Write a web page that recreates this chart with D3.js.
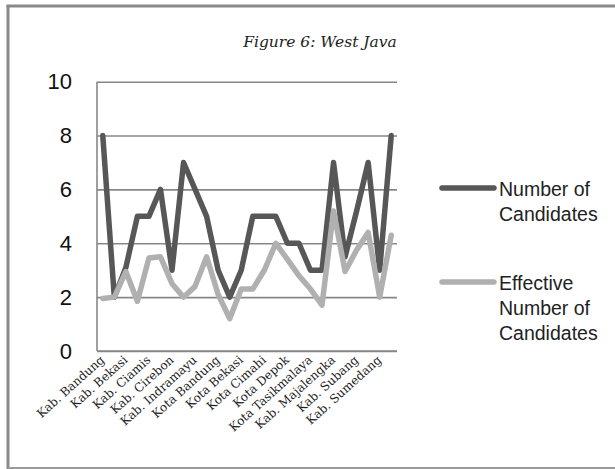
<!DOCTYPE html>
<html>
<head>
<meta charset="utf-8">
<script src="https://cdn.jsdelivr.net/npm/d3@7"></script>
<style>
  html, body { margin: 0; padding: 0; background: #fff; }
  svg { display: block; }
</style>
</head>
<body>
<svg id="chart" width="615" height="469"></svg>
<script>
// ---- data ----
const title = "Figure 6: West Java";
// 26 districts; only every other one is labelled on the axis
const tickLabels = ["Kab. Bandung", "Kab. Bekasi", "Kab. Ciamis", "Kab. Cirebon",
  "Kab. Indramayu", "Kota Bandung", "Kota Bekasi", "Kota Cimahi", "Kota Depok",
  "Kota Tasikmalaya", "Kab. Majalengka", "Kab. Subang", "Kab. Sumedang"];
const numberOfCandidates = [8, 2, 3.1, 5, 5, 6, 3, 7, 6, 5, 3, 2, 3, 5, 5, 5, 4, 4, 3, 3, 7, 3.5, 5.2, 7, 3, 8];
const effectiveNumber = [1.95, 2, 2.95, 1.85, 3.45, 3.5, 2.5, 2, 2.4, 3.5, 2.1, 1.2, 2.3, 2.3, 3, 4, 3.4, 2.8, 2.3, 1.7, 5.2, 2.95, 3.75, 4.4, 2, 4.3];
const yTicks = [0, 2, 4, 6, 8, 10];
const seriesNames = [["Number of", "Candidates"], ["Effective", "Number of", "Candidates"]];

// ---- drawing ----
const svg = d3.select("#chart");
const plotLeft = 97, plotRight = 397, plotTop = 81.7, plotBottom = 351;
const gridColor = "#878787";
const colors = ["#575757", "#b0b0b0"];

// frame
svg.append("rect").attr("x", 0).attr("y", 0).attr("width", 615).attr("height", 469).attr("fill", "#fff");
svg.append("line").attr("x1", 8).attr("x2", 8).attr("y1", 5).attr("y2", 469).attr("stroke", "#8a8a8a").attr("stroke-width", 3);
svg.append("line").attr("x1", 6.5).attr("x2", 615).attr("y1", 6).attr("y2", 6).attr("stroke", "#8a8a8a").attr("stroke-width", 3);
svg.append("line").attr("x1", 8).attr("x2", 615).attr("y1", 468).attr("y2", 468).attr("stroke", "#9a9a9a").attr("stroke-width", 2);

// title
svg.append("text").attr("x", 320).attr("y", 47).attr("text-anchor", "middle")
  .attr("font-family", "'DejaVu Serif', serif").attr("font-style", "italic")
  .attr("font-size", 15.5).attr("fill", "#222").text(title);

const x = d3.scalePoint().domain(d3.range(numberOfCandidates.length)).range([plotLeft, plotRight]).padding(0.5);
const y = d3.scaleLinear().domain([0, 10]).range([plotBottom, plotTop]);

// y axis (gridlines + labels)
const yAxis = d3.axisLeft(y).tickValues(yTicks).tickSize(-(plotRight - plotLeft)).tickPadding(25).tickFormat(d3.format("d"));
const gy = svg.append("g").attr("transform", `translate(${plotLeft},0)`).call(yAxis);
gy.select(".domain").remove();
gy.selectAll(".tick line").attr("stroke", gridColor).attr("stroke-width", 1.6);
gy.selectAll(".tick text").attr("font-family", "'Liberation Sans', Arial, sans-serif")
  .attr("font-size", 22).attr("fill", "#111");
svg.append("line").attr("x1", plotLeft).attr("x2", plotLeft).attr("y1", plotTop).attr("y2", plotBottom)
  .attr("stroke", gridColor).attr("stroke-width", 1.6);

// x axis labels (every other category)
const xAxis = d3.axisBottom(x).tickValues(d3.range(0, numberOfCandidates.length, 2))
  .tickSize(0).tickFormat(i => tickLabels[i / 2]);
const gx = svg.append("g").attr("transform", `translate(0,${plotBottom})`).call(xAxis);
gx.select(".domain").attr("stroke", gridColor).attr("stroke-width", 1.6).attr("d", `M${plotLeft},0H${plotRight}`);
gx.selectAll(".tick text")
  .attr("font-family", "'DejaVu Serif', serif").attr("font-size", 12).attr("fill", "#222")
  .attr("text-anchor", "end").attr("dy", null).attr("y", 0)
  .attr("transform", "translate(2,10) rotate(-42)");

// lines
const line = d3.line().x((d, i) => x(i)).y(d => y(d));
[numberOfCandidates, effectiveNumber].forEach((s, k) => {
  svg.append("path").datum(s).attr("d", line).attr("fill", "none")
    .attr("stroke", colors[k]).attr("stroke-width", 5.5)
    .attr("stroke-linejoin", "round").attr("stroke-linecap", "round");
});

// legend
const legendY = [188, 282];
seriesNames.forEach((lines, k) => {
  const g = svg.append("g");
  g.append("line").attr("x1", 442).attr("x2", 494).attr("y1", legendY[k]).attr("y2", legendY[k])
    .attr("stroke", colors[k]).attr("stroke-width", 5.5).attr("stroke-linecap", "round");
  lines.forEach((t, j) => {
    g.append("text").attr("x", 499).attr("y", legendY[k] + 8 + j * 25)
      .attr("font-family", "'Liberation Sans', Arial, sans-serif").attr("font-size", 19.5)
      .attr("fill", "#222").text(t);
  });
});
</script>
</body>
</html>
